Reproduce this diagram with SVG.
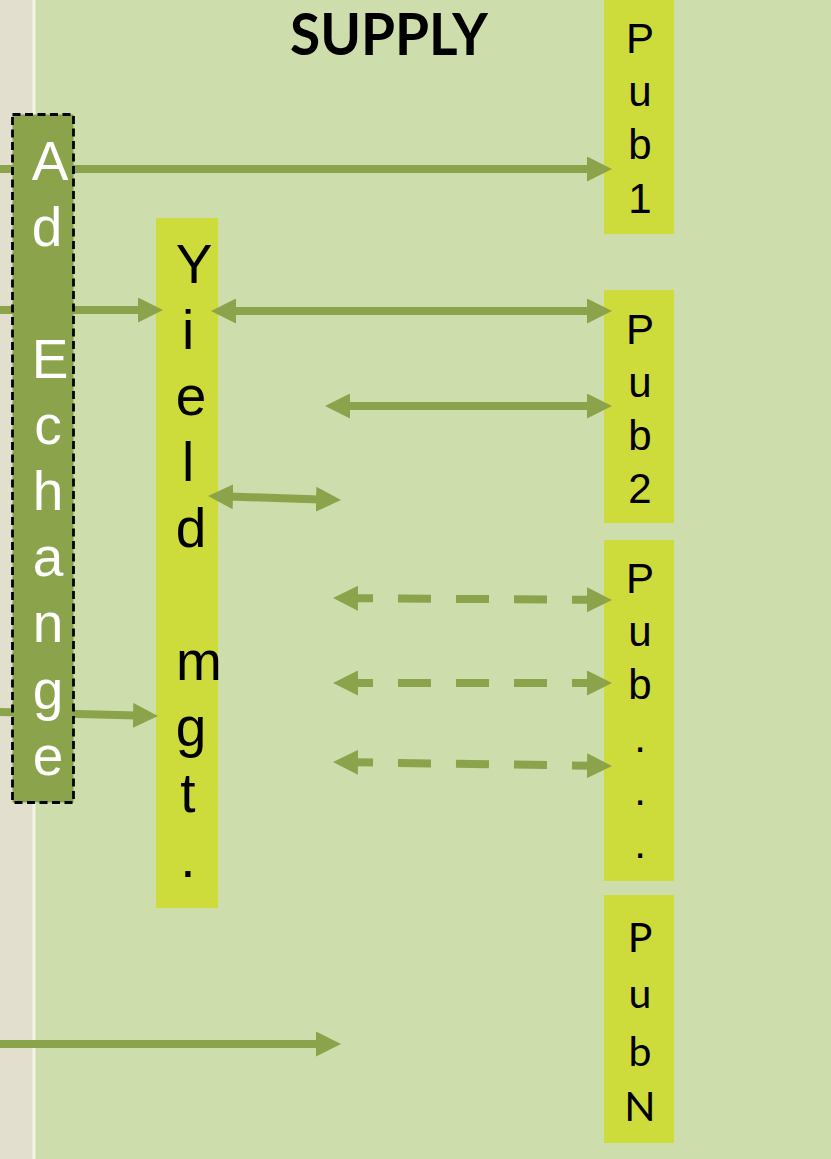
<svg xmlns="http://www.w3.org/2000/svg" width="831" height="1159" viewBox="0 0 831 1159">
  <style>
    .bg-side { fill: #E2DFCE; }
    .bg-main { fill: #CDDDAC; }
    .sep { fill: #F3F3E6; }
    .box-yellow { fill: #CDDC3A; }
    .box-dark { fill: #8BA34B; stroke: #000; stroke-width: 2.8; stroke-dasharray: 8 4.5; }
    .conn { stroke: #8BA34B; stroke-width: 8; fill: none; }
    .dashed { stroke-dasharray: 33 25; stroke-dashoffset: 14; }
    .title { font-family: "Lato", "Liberation Sans", sans-serif; font-weight: bold; font-size: 58px; fill: #000; }
    .big { font-family: "Liberation Sans", Arial, sans-serif; font-size: 55px; text-anchor: middle; }
    .pub { font-family: "Liberation Sans", Arial, sans-serif; font-size: 42px; text-anchor: middle; fill: #000; }
    .pubn { font-family: "Lato", "Liberation Sans", sans-serif; font-size: 41px; text-anchor: middle; fill: #000; }
  </style>
  <defs>
    <marker id="head" viewBox="0 0 25 25" refX="4" refY="12.5" markerWidth="25" markerHeight="25" markerUnits="userSpaceOnUse" orient="auto-start-reverse">
      <path d="M0,0 L25,12.5 L0,25 z" fill="#8BA34B"/>
    </marker>
  </defs>

  <!-- background panels -->
  <rect class="bg-side" x="0" y="0" width="33" height="1159"/>
  <rect class="bg-main" x="35" y="0" width="796" height="1159"/>
  <rect class="sep" x="32.5" y="0" width="3" height="1159"/>

  <text class="title" x="389" y="55" text-anchor="middle" textLength="198" lengthAdjust="spacingAndGlyphs">SUPPLY</text>

  <!-- yield management column, one letter per line -->
  <g id="yield-mgt" class="big" fill="#000">
    <rect class="box-yellow" x="156" y="218" width="62" height="690"/>
    <text x="194" y="283">Y</text>
    <text x="188" y="349">i</text>
    <text x="191" y="415">e</text>
    <text x="188" y="481">l</text>
    <text x="191" y="547">d</text>
    <text x="199" y="680">m</text>
    <text x="191" y="746">g</text>
    <text x="188" y="812">t</text>
    <text x="188" y="877">.</text>
  </g>

  <!-- publishers -->
  <g id="pub1" class="pub">
    <rect class="box-yellow" x="604" y="0" width="70" height="234"/>
    <text x="640" y="53">P</text>
    <text x="640" y="106">u</text>
    <text x="640" y="159">b</text>
    <text x="640" y="213">1</text>
  </g>
  <g id="pub2" class="pub">
    <rect class="box-yellow" x="604" y="290" width="70" height="233"/>
    <text x="640" y="344">P</text>
    <text x="640" y="397">u</text>
    <text x="640" y="450">b</text>
    <text x="640" y="503">2</text>
  </g>
  <g id="pub-more" class="pub">
    <rect class="box-yellow" x="604" y="540" width="70" height="341"/>
    <text x="640" y="593">P</text>
    <text x="640" y="646">u</text>
    <text x="640" y="699">b</text>
    <text x="640" y="752">.</text>
    <text x="640" y="805">.</text>
    <text x="640" y="858">.</text>
  </g>
  <g id="pubN" class="pubn">
    <rect class="box-yellow" x="604" y="895" width="70" height="248"/>
    <text x="640" y="952">P</text>
    <text x="640" y="1008">u</text>
    <text x="640" y="1066">b</text>
    <text x="640" y="1121">N</text>
  </g>

  <!-- connectors -->
  <g id="connectors">
    <line class="conn" x1="0" y1="169" x2="591" y2="169" marker-end="url(#head)"/>
    <line class="conn" x1="0" y1="310" x2="142" y2="310" marker-end="url(#head)"/>
    <line class="conn" x1="232" y1="311" x2="591" y2="311" marker-start="url(#head)" marker-end="url(#head)"/>
    <line class="conn" x1="346" y1="406" x2="591" y2="406" marker-start="url(#head)" marker-end="url(#head)"/>
    <line class="conn" x1="229" y1="496.6" x2="320" y2="499.4" marker-start="url(#head)" marker-end="url(#head)"/>
    <line class="conn dashed" x1="354" y1="598.2" x2="591" y2="599.8" marker-start="url(#head)" marker-end="url(#head)"/>
    <line class="conn dashed" x1="354" y1="683" x2="591" y2="683" marker-start="url(#head)" marker-end="url(#head)"/>
    <line class="conn dashed" x1="354" y1="762.3" x2="591" y2="765.7" marker-start="url(#head)" marker-end="url(#head)"/>
    <line class="conn" x1="0" y1="712" x2="137" y2="715.5" marker-end="url(#head)"/>
    <line class="conn" x1="0" y1="1044" x2="320" y2="1044" marker-end="url(#head)"/>
  </g>

  <!-- ad exchange column, one letter per line -->
  <g id="ad-exchange" class="big" fill="#FFF">
    <rect class="box-dark" x="12.5" y="114.5" width="61" height="688"/>
    <text x="50" y="180">A</text>
    <text x="47" y="246">d</text>
    <text x="50" y="378">E</text>
    <text x="48" y="444">c</text>
    <text x="48" y="510">h</text>
    <text x="48" y="576">a</text>
    <text x="48" y="642">n</text>
    <text x="48" y="709">g</text>
    <text x="48" y="775">e</text>
  </g>
</svg>
